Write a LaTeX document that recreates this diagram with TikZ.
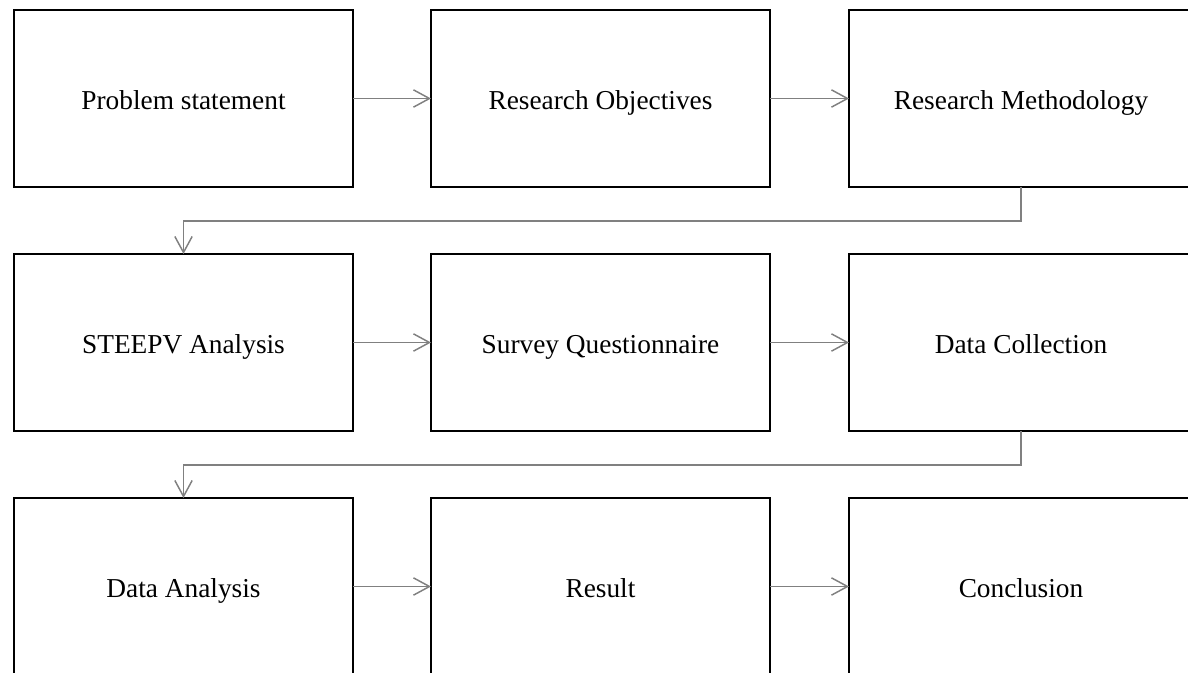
\documentclass[tikz,border=0pt]{standalone}
\usepackage{fontspec}
\setmainfont{Liberation Serif}
\usetikzlibrary{arrows.meta}
\begin{document}
\begin{tikzpicture}[x=0.75pt,y=-0.75pt,
  box/.style={draw=black,line width=2.2pt,minimum width=254.25pt,minimum height=132.75pt,
    inner sep=0pt,outer sep=0pt,anchor=north west,text height=19.5pt,text depth=3pt,
    font=\fontsize{20.5}{25}\selectfont},
  lastcol/.style={minimum width=258pt},
  flow/.style={draw=black!50,line width=1.3pt,
    -{Straight Barb[length=12pt,width=13pt,line width=1.1pt]}}]
\clip (0,0) rectangle (1188,673);
\fill[white] (0,0) rectangle (1188,673);
\node[box] (ps) at (14,10)  {Problem statement};
\node[box] (ro) at (431,10) {Research Objectives};
\node[box,lastcol] (rm) at (849,10) {Research Methodology};
\node[box] (st) at (14,254)  {STEEPV Analysis};
\node[box] (sq) at (431,254) {Survey Questionnaire};
\node[box,lastcol] (dc) at (849,254) {Data Collection};
\node[box] (da) at (14,498)  {Data Analysis};
\node[box] (re) at (431,498) {Result};
\node[box,lastcol] (co) at (849,498) {Conclusion};
\draw[flow] (ps.east) -- (ro.west);
\draw[flow] (ro.east) -- (rm.west);
\draw[flow] (st.east) -- (sq.west);
\draw[flow] (sq.east) -- (dc.west);
\draw[flow] (da.east) -- (re.west);
\draw[flow] (re.east) -- (co.west);
\draw[flow] (rm.south) -- ++(0,34) -| (st.north);
\draw[flow] (dc.south) -- ++(0,34) -| (da.north);
\end{tikzpicture}
\end{document}
